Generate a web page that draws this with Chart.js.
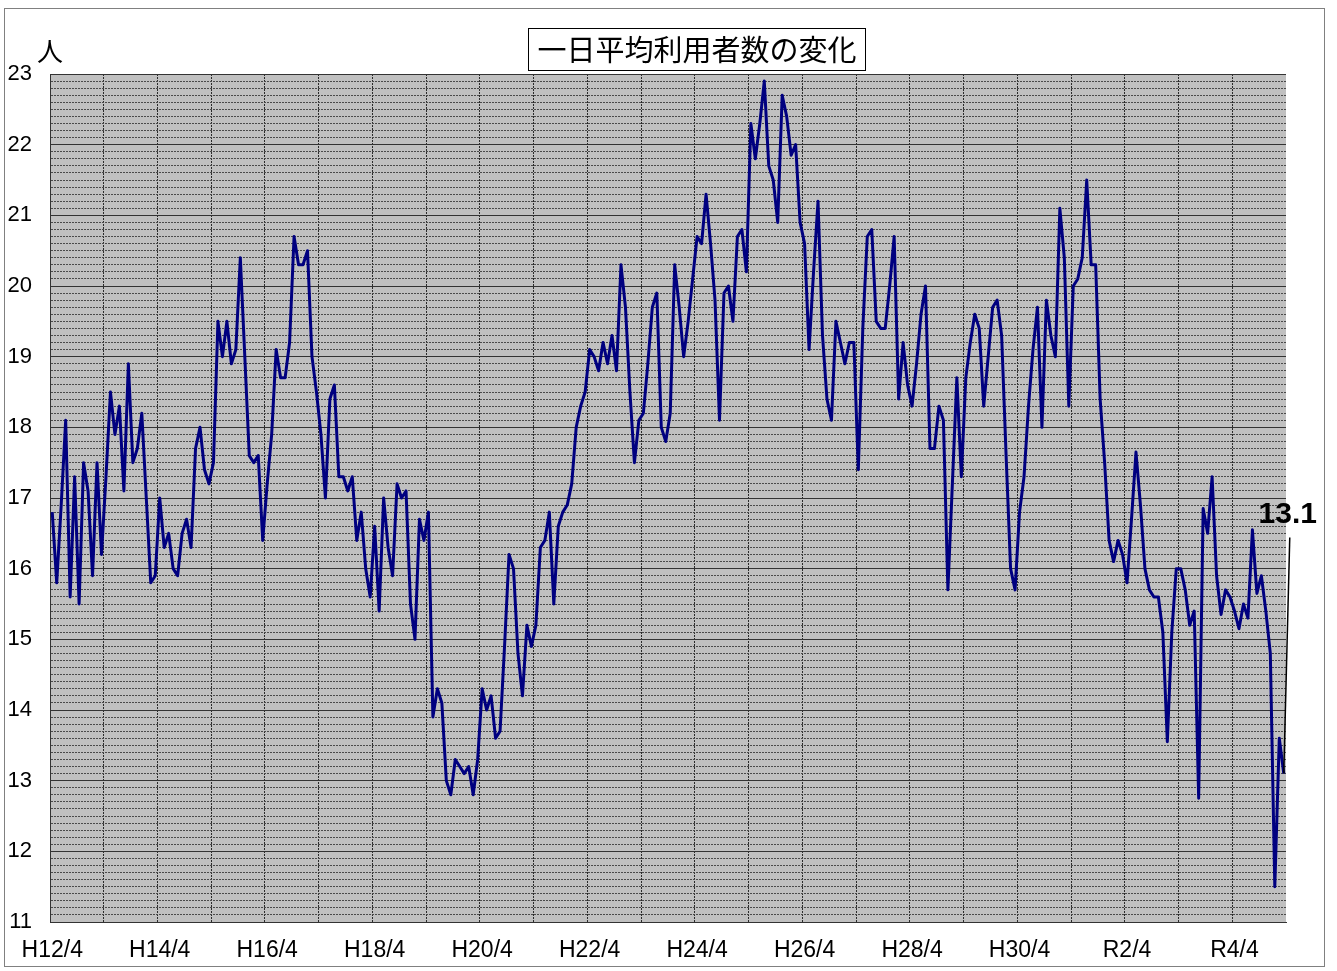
<!DOCTYPE html>
<html lang="ja">
<head>
<meta charset="UTF-8">
<title>一日平均利用者数の変化</title>
<script src="https://cdn.jsdelivr.net/npm/chart.js@4.4.1/dist/chart.umd.min.js"></script>
<style>
  html, body { margin: 0; padding: 0; background: #ffffff; }
  #wrap { width: 1337px; height: 971px; }
</style>
</head>
<body>
<div id="wrap"><canvas id="myChart" width="1337" height="971"></canvas></div>
<script>
// Calendar year names used in month labels (2000 -> 2023)
const yearNames = ["H12", "H13", "H14", "H15", "H16", "H17", "H18", "H19", "H20", "H21", "H22", "H23",
    "H24", "H25", "H26", "H27", "H28", "H29", "H30", "H31", "R2", "R3", "R4", "R5"];
// Months of a fiscal year (April to March)
const fiscalMonths = [4, 5, 6, 7, 8, 9, 10, 11, 12, 1, 2, 3];
// Labels written under the x axis
const axisLabels = ["H12/4", "H14/4", "H16/4", "H18/4", "H20/4", "H22/4", "H24/4", "H26/4", "H28/4", "H30/4", "R2/4", "R4/4"];

// Daily average users, one array per fiscal year (April to March)
const fyH12 = [16.8, 15.8, 16.9, 18.1, 15.6, 17.3, 15.5, 17.5, 17.1, 15.9, 17.5, 16.2];
const fyH13 = [17.3, 18.5, 17.9, 18.3, 17.1, 18.9, 17.5, 17.7, 18.2, 17.0, 15.8, 15.9];
const fyH14 = [17.0, 16.3, 16.5, 16.0, 15.9, 16.5, 16.7, 16.3, 17.7, 18.0, 17.4, 17.2];
const fyH15 = [17.5, 19.5, 19.0, 19.5, 18.9, 19.1, 20.4, 19.0, 17.6, 17.5, 17.6, 16.4];
const fyH16 = [17.2, 17.9, 19.1, 18.7, 18.7, 19.2, 20.7, 20.3, 20.3, 20.5, 19.0, 18.5];
const fyH17 = [17.9, 17.0, 18.4, 18.6, 17.3, 17.3, 17.1, 17.3, 16.4, 16.8, 16.0, 15.6];
const fyH18 = [16.6, 15.4, 17.0, 16.3, 15.9, 17.2, 17.0, 17.1, 15.5, 15.0, 16.7, 16.4];
const fyH19 = [16.8, 13.9, 14.3, 14.1, 13.0, 12.8, 13.3, 13.2, 13.1, 13.2, 12.8, 13.3];
const fyH20 = [14.3, 14.0, 14.2, 13.6, 13.7, 14.9, 16.2, 16.0, 14.8, 14.2, 15.2, 14.9];
const fyH21 = [15.2, 16.3, 16.4, 16.8, 15.5, 16.6, 16.8, 16.9, 17.2, 18.0, 18.3, 18.5];
const fyH22 = [19.1, 19.0, 18.8, 19.2, 18.9, 19.3, 18.8, 20.3, 19.7, 18.5, 17.5, 18.1];
const fyH23 = [18.2, 18.9, 19.7, 19.9, 18.0, 17.8, 18.2, 20.3, 19.7, 19.0, 19.5, 20.1];
const fyH24 = [20.7, 20.6, 21.3, 20.6, 19.8, 18.1, 19.9, 20.0, 19.5, 20.7, 20.8, 20.2];
const fyH25 = [22.3, 21.8, 22.3, 22.9, 21.7, 21.5, 20.9, 22.7, 22.4, 21.85, 22.0, 20.9];
const fyH26 = [20.6, 19.1, 20.2, 21.2, 19.3, 18.4, 18.1, 19.5, 19.2, 18.9, 19.2, 19.2];
const fyH27 = [17.4, 19.4, 20.7, 20.8, 19.5, 19.4, 19.4, 20.0, 20.7, 18.4, 19.2, 18.6];
const fyH28 = [18.3, 18.9, 19.6, 20.0, 17.7, 17.7, 18.3, 18.1, 15.7, 17.2, 18.7, 17.3];
const fyH29 = [18.7, 19.2, 19.6, 19.4, 18.3, 19.0, 19.7, 19.8, 19.3, 17.6, 16.0, 15.7];
const fyH30 = [16.8, 17.3, 18.3, 19.1, 19.7, 18.0, 19.8, 19.3, 19.0, 21.1, 20.4, 18.3];
const fyR1 = [20.0, 20.1, 20.4, 21.5, 20.3, 20.3, 18.4, 17.5, 16.4, 16.1, 16.4, 16.2];
const fyR2 = [15.8, 16.7, 17.65, 16.9, 16.0, 15.7, 15.6, 15.6, 15.1, 13.55, 15.1, 16.0];
const fyR3 = [16.0, 15.7, 15.2, 15.4, 12.75, 16.85, 16.5, 17.3, 15.9, 15.35, 15.7, 15.6];
const fyR4 = [15.4, 15.15, 15.5, 15.3, 16.55, 15.65, 15.9, 15.4, 14.8, 11.5, 13.6, 13.1];

const fiscalYearData = [fyH12, fyH13, fyH14, fyH15, fyH16, fyH17, fyH18, fyH19, fyH20, fyH21, fyH22, fyH23,
    fyH24, fyH25, fyH26, fyH27, fyH28, fyH29, fyH30, fyR1, fyR2, fyR3, fyR4];

// Month labels like "H12/4" ... "R5/3"
const monthLabels = [];
fiscalYearData.forEach((fy, k) => {
    fiscalMonths.forEach((m) => {
        monthLabels.push(`${m >= 4 ? yearNames[k] : yearNames[k + 1]}/${m}`);
    });
});
const dailyUsers = fiscalYearData.flat();

const tickFont = { family: '"Liberation Sans", Arial, sans-serif', size: 22 };
const isWhole = (v) => Math.abs(v - Math.round(v)) < 1e-6;

// Gray plot background and white page
const plotBackground = {
    id: "plotBackground",
    beforeDraw: (chart) => {
        const { ctx, chartArea } = chart;
        ctx.save();
        ctx.fillStyle = "#ffffff";
        ctx.fillRect(0, 0, chart.width, chart.height);
        ctx.fillStyle = "#c0c0c0";
        ctx.fillRect(chartArea.left, chartArea.top, chartArea.right - chartArea.left, chartArea.bottom - chartArea.top);
        ctx.restore();
    },
};

// Frame, boxed title, unit and the label of the last month
const decorations = {
    id: "decorations",
    afterDraw: (chart) => {
        const { ctx } = chart;
        ctx.save();
        ctx.strokeStyle = "#808080";
        ctx.lineWidth = 1;
        ctx.strokeRect(4.5, 8.5, 1320, 958);

        // title in a box
        const title = "一日平均利用者数の変化";
        ctx.font = '29px "Noto Sans CJK JP", sans-serif';
        ctx.textAlign = "center";
        ctx.textBaseline = "middle";
        const tw = ctx.measureText(title).width;
        ctx.fillStyle = "#ffffff";
        ctx.fillRect(697 - tw / 2 - 9, 28.5, tw + 18, 42);
        ctx.strokeStyle = "#000000";
        ctx.strokeRect(Math.round(697 - tw / 2 - 9) + 0.5, 28.5, Math.round(tw + 18), 42);
        ctx.fillStyle = "#000000";
        ctx.fillText(title, 697, 50);

        // unit
        ctx.font = '26px "Noto Sans CJK JP", sans-serif';
        ctx.fillText("人", 50, 51);

        // last value with a leader line
        const meta = chart.getDatasetMeta(0);
        const last = meta.data[meta.data.length - 1];
        const lastValue = dailyUsers[dailyUsers.length - 1];
        ctx.strokeStyle = "#000000";
        ctx.lineWidth = 1.5;
        ctx.beginPath();
        ctx.moveTo(last.x, last.y);
        ctx.lineTo(last.x + 6, last.y - 236);
        ctx.stroke();
        ctx.font = 'bold 30px "Liberation Sans", Arial, sans-serif';
        ctx.textBaseline = "alphabetic";
        ctx.fillText(lastValue.toFixed(1), last.x + 4, last.y - 251);
        ctx.restore();
    },
};

const config = {
    type: "line",
    data: {
        labels: monthLabels,
        datasets: [
            {
                label: "一日平均利用者数",
                data: dailyUsers,
                borderColor: "#000080",
                borderWidth: 3,
                borderJoinStyle: "round",
                pointRadius: 0,
                tension: 0,
            },
        ],
    },
    options: {
        responsive: false,
        animation: false,
        layout: { padding: { top: 74, right: 51, bottom: 0, left: 0 } },
        plugins: { legend: { display: false }, title: { display: false }, tooltip: { enabled: false } },
        scales: {
            x: {
                offset: true,
                afterFit: (scale) => { scale.height = 49; },
                border: { color: "#333333", width: 1, dash: [2, 1] },
                grid: {
                    offset: true,
                    drawTicks: false,
                    color: (c) => (c.index % 12 === 0 ? "#2b2b2b" : "transparent"),
                },
                ticks: {
                    autoSkip: false,
                    maxRotation: 0,
                    minRotation: 0,
                    padding: 15,
                    color: "#000000",
                    font: { family: tickFont.family, size: 23 },
                    callback: function (value) {
                        const lab = this.getLabelForValue(value);
                        return axisLabels.includes(lab) ? lab : "";
                    },
                },
            },
            y: {
                min: 11,
                max: 23,
                afterFit: (scale) => { scale.width = 50; },
                border: { color: "#333333", width: 1, dash: [2, 1] },
                grid: {
                    drawTicks: false,
                    color: (c) => (c.tick && isWhole(c.tick.value) ? "transparent" : "#4a4a4a"),
                },
                ticks: {
                    stepSize: 0.1,
                    autoSkip: false,
                    padding: 18,
                    color: "#000000",
                    font: tickFont,
                    callback: (v) => (isWhole(v) ? Math.round(v) : ""),
                },
            },
            // solid lines at whole numbers
            yMajor: {
                position: "right",
                min: 11,
                max: 23,
                afterFit: (scale) => { scale.width = 0; },
                border: { display: false },
                grid: { drawTicks: false, color: "#333333" },
                ticks: { display: false, stepSize: 1 },
            },
        },
    },
    plugins: [plotBackground, decorations],
};

const myChart = new Chart(document.querySelector("#myChart"), config);
</script>
</body>
</html>
